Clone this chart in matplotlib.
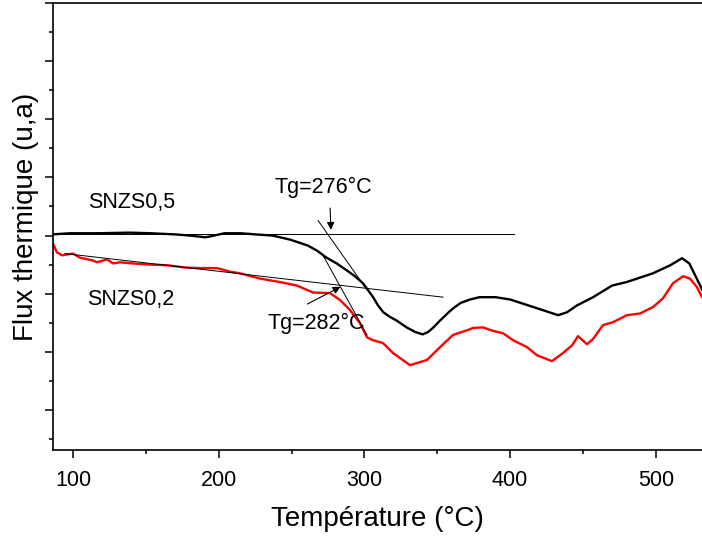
import matplotlib
matplotlib.use("Agg")
import matplotlib.pyplot as plt
from matplotlib.ticker import MultipleLocator

plt.rcParams['font.family'] = ['Liberation Sans', 'DejaVu Sans']

# SNZS0,5 (courbe noire)
t_05 = [86, 98, 118, 139, 153, 170, 180, 191, 197, 204, 215, 225, 237, 249, 261,
        267.5, 274, 281, 288, 293.5, 299, 302.5, 306, 309.3, 313, 317.6, 322, 329,
        335, 340, 343.6, 347, 352, 357, 361, 366, 372.5, 379, 390, 400,
        416, 433, 439, 446, 457, 470, 480, 498, 510, 518, 523, 532]
flux_05 = [4.02, 4.04, 4.04, 4.05, 4.04, 4.02, 4.00, 3.97, 4.00, 4.04, 4.04, 4.02,
           4.00, 3.93, 3.83, 3.74, 3.62, 3.52, 3.40, 3.30, 3.18, 3.06, 2.94, 2.80,
           2.68, 2.60, 2.54, 2.42, 2.34, 2.30, 2.34, 2.41, 2.54, 2.66, 2.75, 2.84,
           2.90, 2.94, 2.94, 2.90, 2.77, 2.63, 2.68, 2.80, 2.94, 3.14,
           3.20, 3.35, 3.49, 3.61, 3.52, 3.06]

# SNZS0,2 (courbe rouge)
t_02 = [86.3, 89.0, 92.5, 100, 104.8, 113.7, 116.5, 120.6, 123.3, 127.5, 132.3,
        141.2, 152.8, 164.5, 176.9, 187.2, 198.8, 207.7, 214.6, 228.3, 242.1, 253.7,
        264.7, 276.4, 283.3, 290.1, 297.0, 301.8, 305.9, 312.8, 319.6, 331.3, 343.0,
        351.9, 360.8, 370.4, 374.5, 381.4, 388.3, 395.1, 402.0, 411.6, 418.5, 428.8,
        436.3, 442.5, 446.6, 452.8, 456.9, 463.8, 470.6, 480.2, 489.2, 498.1, 504.9,
        511.8, 518.7, 523.4, 528.3, 531.7]
flux_02 = [3.86, 3.71, 3.66, 3.69, 3.62, 3.57, 3.54, 3.57, 3.59, 3.52, 3.54, 3.52,
           3.50, 3.49, 3.45, 3.44, 3.44, 3.38, 3.35, 3.26, 3.20, 3.14, 3.02, 3.01,
           2.89, 2.72, 2.49, 2.25, 2.20, 2.15, 1.98, 1.77, 1.86, 2.08, 2.29, 2.37,
           2.41, 2.42, 2.36, 2.32, 2.20, 2.08, 1.94, 1.84, 1.98, 2.11, 2.27, 2.13,
           2.22, 2.46, 2.51, 2.63, 2.66, 2.77, 2.92, 3.18, 3.30, 3.26, 3.11, 2.94]

# tangentes (x, y)
base_05 = ([86.3, 402.7], [4.02, 4.02])
pente_05 = ([268.2, 301.1], [4.26, 3.09])
base_02 = ([94.5, 354.0], [3.69, 2.94])
pente_02 = ([271.6, 301.8], [3.66, 2.29])

fig = plt.figure(figsize=(7.02, 5.39), dpi=100)
ax = fig.add_axes([0.0755, 0.165, 0.9245, 0.8294])

ax.plot(t_05, flux_05, color='black', lw=1.7)
ax.plot(t_02, flux_02, color='red', lw=1.7)
for xs, ys in (base_05, pente_05, base_02, pente_02):
    ax.plot(xs, ys, color='black', lw=0.7)

ax.annotate('', xy=(277.1, 4.05), xytext=(276.4, 4.52),
            arrowprops=dict(arrowstyle='-|>', color='black', lw=0.8, mutation_scale=11))
ax.annotate('', xy=(285.3, 3.14), xytext=(259.2, 2.80),
            arrowprops=dict(arrowstyle='-|>', color='black', lw=0.8, mutation_scale=11))

ax.text(271.6, 4.83, 'Tg=276°C', fontsize=15.5, ha='center', va='center')
ax.text(266.8, 2.48, 'Tg=282°C', fontsize=15.5, ha='center', va='center')
ax.text(140.5, 4.57, 'SNZS0,5', fontsize=15.5, ha='center', va='center')
ax.text(139.8, 2.90, 'SNZS0,2', fontsize=15.5, ha='center', va='center')

ax.set_xlim(86.3, 531.7)
ax.set_ylim(0.31, 8.0)
ax.xaxis.set_major_locator(MultipleLocator(100))
ax.xaxis.set_minor_locator(MultipleLocator(50))
ax.yaxis.set_major_locator(MultipleLocator(1))
ax.yaxis.set_minor_locator(MultipleLocator(0.5))
ax.tick_params(which='major', length=6, width=1.1, labelsize=15.5, pad=8)
ax.tick_params(which='minor', length=3, width=1.1)
ax.tick_params(axis='y', labelleft=False)
ax.spines['right'].set_visible(False)
for s in ('left', 'bottom', 'top'):
    ax.spines[s].set_linewidth(1.2)

ax.set_xlabel('Température (°C)', fontsize=20, labelpad=11)
ax.set_ylabel('Flux thermique (u,a)', fontsize=20)
ax.yaxis.set_label_coords(-0.022, 0.522)

fig.savefig('out.png', dpi=100)
